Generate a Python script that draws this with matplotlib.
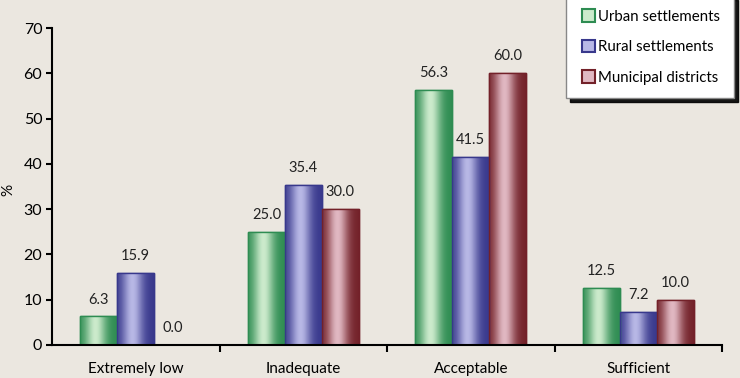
import numpy as np
import matplotlib.pyplot as plt
from matplotlib.patches import Rectangle
from matplotlib.legend_handler import HandlerBase

categories = ["Extremely low", "Inadequate", "Acceptable", "Sufficient"]
series = ["Urban settlements", "Rural settlements", "Municipal districts"]
urban = [6.3, 25.0, 56.3, 12.5]
rural = [15.9, 35.4, 41.5, 7.2]
municipal = [0.0, 30.0, 60.0, 10.0]
values = [urban, rural, municipal]

# dark edge / light centre colours for each series
dark = [(0.18, 0.55, 0.32), (0.22, 0.22, 0.55), (0.45, 0.13, 0.16)]
light = [(0.80, 0.92, 0.80), (0.72, 0.72, 0.90), (0.88, 0.72, 0.76)]

bg = "#ebe7e0"
plt.rcParams['font.family'] = ['Lato', 'DejaVu Sans']

fig = plt.figure(figsize=(7.4, 3.78), dpi=100, facecolor=bg)
ax = fig.add_axes([52 / 740, 33 / 378, 670 / 740, 317 / 378], facecolor=bg)


def gradient(c0, c1, n=64):
    t = np.linspace(0, 1, n)
    # light band a bit left of centre
    w = np.exp(-((t - 0.42) / 0.28) ** 2)
    w = w / w.max()
    img = np.zeros((1, n, 3))
    for k in range(3):
        img[0, :, k] = c0[k] + (c1[k] - c0[k]) * w
    return img


x = np.arange(len(categories))
width = 0.22
offsets = [-width, 0, width]

for s in range(3):
    bars = ax.bar(x + offsets[s], values[s], width, color=light[s],
                  edgecolor=dark[s], linewidth=1.0, zorder=2)
    img = gradient(dark[s], light[s])
    for b, v in zip(bars, values[s]):
        if v > 0:
            im = ax.imshow(img, extent=[b.get_x(), b.get_x() + b.get_width(), 0, v],
                           aspect='auto', zorder=2.5, interpolation='bilinear')
            im.set_clip_path(b)
            ax.add_patch(Rectangle((b.get_x(), 0), b.get_width(), v, fill=False,
                                   edgecolor=dark[s], linewidth=1.0, zorder=3))
        ax.text(b.get_x() + b.get_width() / 2, v + 2.2, f"{v:.1f}",
                ha='center', va='bottom', fontsize=10.5, color='#222222')

ax.set_xlim(-0.5, 3.5)
ax.set_ylim(0, 70)
ax.set_yticks(range(0, 71, 10))
ax.set_xticks(x)
ax.set_xticklabels(categories)
ax.set_xticks([0.5, 1.5, 2.5, 3.5], minor=True)
ax.tick_params(axis='x', which='major', length=0, pad=12, labelsize=11)
ax.tick_params(axis='x', which='minor', length=5, width=1.5, direction='out')
ax.tick_params(axis='y', length=4, width=1.5, direction='out', labelsize=11.5, pad=3)
fig.text(8 / 740, 1 - 190 / 378, "%", rotation=90, ha='center', va='center', fontsize=11)
for side in ['top', 'right']:
    ax.spines[side].set_visible(False)
for side in ['left', 'bottom']:
    ax.spines[side].set_linewidth(1.5)
    ax.spines[side].set_zorder(4)


class GradHandler(HandlerBase):
    def __init__(self, s):
        super().__init__()
        self.s = s

    def create_artists(self, legend, orig, xd, yd, w, h, fs, trans):
        sz = 9
        r = Rectangle((xd + w - sz, yd + (h - sz) / 2), sz, sz,
                      facecolor=light[self.s], edgecolor=dark[self.s],
                      linewidth=1.5, transform=trans)
        return [r]


handles = [Rectangle((0, 0), 1, 1) for _ in series]
leg = fig.legend(handles, series, loc='upper right', bbox_to_anchor=(734 / 740, 1.01),
                 handler_map={h: GradHandler(i) for i, h in enumerate(handles)},
                 fontsize=10.8, frameon=True, fancybox=False,
                 shadow={'color': 'black', 'alpha': 0.9, 'ox': 3, 'oy': -3},
                 labelspacing=1.1, handlelength=1.0, handletextpad=0.25,
                 borderpad=0.9, borderaxespad=0.0)
leg.get_frame().set_edgecolor('#888888')
leg.get_frame().set_linewidth(1.0)
leg.get_frame().set_facecolor('white')

fig.savefig("out.png", dpi=100, facecolor=bg)
